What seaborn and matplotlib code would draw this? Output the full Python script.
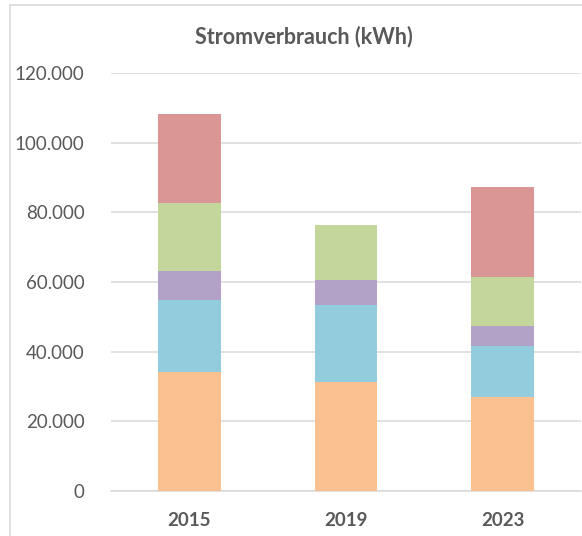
import matplotlib
matplotlib.use("Agg")
import matplotlib.pyplot as plt
import seaborn as sns
import pandas as pd
import numpy as np
from matplotlib.patches import Rectangle
from matplotlib.ticker import FuncFormatter

years = ["2015", "2019", "2023"]
seg1 = [34300, 31400, 27000]   # orange
seg2 = [20600, 22100, 14700]   # blue
seg3 = [8300, 7000, 5700]      # purple
seg4 = [19400, 15900, 13900]   # green
seg5 = [25500, 0, 25900]       # red
colors = ["#FAC090", "#93CDDD", "#B3A2C7", "#C3D69B", "#D99694"]
title = "Stromverbrauch (kWh)"
yticks = [0, 20000, 40000, 60000, 80000, 100000, 120000]

sns.set_theme(style="white")
plt.rcParams['font.family'] = ['Lato', 'DejaVu Sans']

W, H = 582, 536
fig = plt.figure(figsize=(W/100, H/100), dpi=100)
ax = fig.add_axes([111/W, 1-491/H, (581-111)/W, (491-73)/H])

segs = [seg1, seg2, seg3, seg4, seg5]
cum = np.cumsum(np.array(segs), axis=0)
for i in range(len(segs)-1, -1, -1):
    df = pd.DataFrame({"year": years, "val": cum[i]})
    sns.barplot(data=df, x="year", y="val", color=colors[i], width=0.4,
                saturation=1, ax=ax, edgecolor="none", linewidth=0, zorder=3)

ax.set_xlim(-0.5, 2.5)
ax.set_ylim(0, 120000)
ax.set_yticks(yticks)
ax.yaxis.set_major_formatter(FuncFormatter(lambda v, p: f"{int(v):,}".replace(",", ".")))
ax.grid(axis="y", color="#D9D9D9", linewidth=1.1, zorder=0)
ax.grid(axis="x", visible=False)
for s in ["top", "right", "left"]:
    ax.spines[s].set_visible(False)
ax.spines["bottom"].set_color("#D9D9D9")
ax.spines["bottom"].set_linewidth(1.1)
ax.set_xlabel("")
ax.set_ylabel("")
ax.tick_params(axis="y", length=0, pad=19, labelsize=13.5, labelcolor="#595959")
ax.tick_params(axis="x", length=0, pad=15, labelsize=13.5, labelcolor="#595959")
for lab in ax.get_xticklabels():
    lab.set_fontweight("bold")

fig.text(304/W, 1-37/H, title, ha="center", va="center", fontsize=15.5,
         fontweight="bold", color="#595959")

fig.patches.append(Rectangle((10/W, -0.1), 1.2, 1-5/H+0.1, transform=fig.transFigure,
                             fill=False, edgecolor="#D9D9D9", linewidth=1.2))

fig.savefig("out.png", dpi=100)
